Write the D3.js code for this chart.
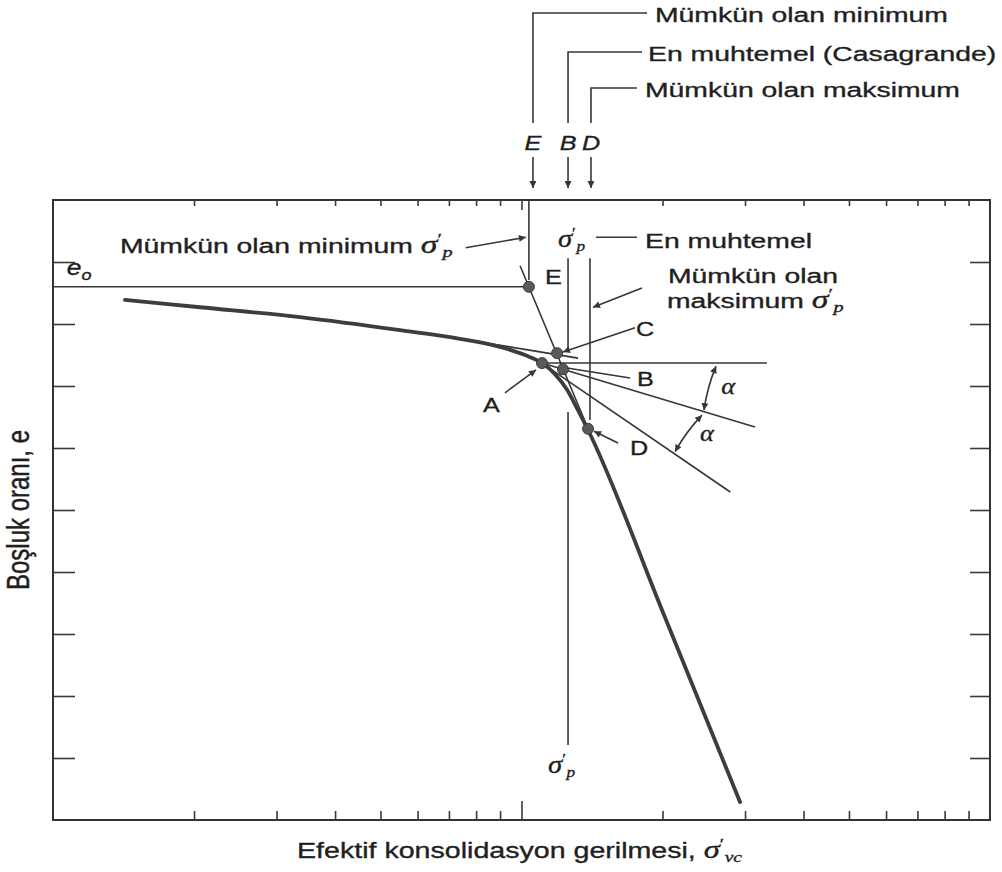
<!DOCTYPE html>
<html><head><meta charset="utf-8">
<script src="https://cdn.jsdelivr.net/npm/d3@7"></script>
<style>body{margin:0;background:#fff}svg{display:block}</style>
</head><body>
<svg id="c" width="1002" height="872"></svg>
<script>
// ---------- data (stress: log axis, void ratio: linear axis) ----------
const curveStress = [1.424, 2.060, 3.367, 5.505, 7.392, 8.998, 10.17, 11.06, 11.79, 12.51, 13.20, 13.87, 20.14, 29.27];
const curveVoid   = [0.839, 0.827, 0.811, 0.790, 0.776, 0.763, 0.750, 0.737, 0.719, 0.694, 0.661, 0.629, 0.331, 0.029];

const pointNames  = ["E", "A", "C", "B", "D"];
const pointStress = [10.37, 11.06, 11.91, 12.26, 13.87];
const pointVoid   = [0.860, 0.737, 0.753, 0.727, 0.631];

const e0 = 0.860;
// construction lines
const lineNames  = ["virgin", "horizontal", "bisector", "tangent", "recompression"];
const lineFrom   = [[9.93, 0.894], [11.06, 0.737], [11.06, 0.737], [11.06, 0.737], [8.15, 0.771]];
const lineTo     = [[13.87, 0.631], [33.4, 0.737], [31.5, 0.634], [27.9, 0.529], [13.2, 0.745]];
// vertical construction lines: stress, void top, void bottom
const vertStress = [10.37, 12.57, 12.57, 14.00];
const vertTop    = [1.000, 0.906, 0.658, 0.906];
const vertBottom = [0.871, 0.761, 0.121, 0.645];

const xMinorTicks = [2, 3, 4, 5, 6, 7, 8, 9, 20, 30, 40, 50, 60, 70, 80, 90];
const xMajorTicks = [10];
const yTicks = [0.1, 0.2, 0.3, 0.4, 0.5, 0.6, 0.7, 0.8, 0.9];

// top markers E, B, D
const topMarkNames  = ["E", "B", "D"];
const topMarkStress = [10.58, 12.57, 14.07];
const topMarkTexts  = ["Mümkün olan minimum", "En muhtemel (Casagrande)", "Mümkün olan maksimum"];

// ---------- layout ----------
const svg = d3.select("#c");
const L = 53, T = 200, R = 990, B = 820;
const x = d3.scaleLog().domain([1, 100]).range([L, R]);
const y = d3.scaleLinear().domain([0, 1]).range([B, T]);
const INK = "#1f1f1f", LINE = "#363636";
const SANS = "'Liberation Sans', Arial, Helvetica, sans-serif";
const SERIF = "'Liberation Serif', 'Times New Roman', serif";
const SX = 1.35;

const defs = svg.append("defs");
defs.append("marker").attr("id", "arr").attr("viewBox", "0 0 10 10")
  .attr("refX", 10).attr("refY", 5).attr("markerWidth", 10).attr("markerHeight", 7)
  .attr("markerUnits", "userSpaceOnUse").attr("orient", "auto-start-reverse")
  .append("path").attr("d", "M0,0 L10,5 L0,10 z").attr("fill", LINE);

// frame
svg.append("rect").attr("x", L).attr("y", T).attr("width", R - L).attr("height", B - T)
  .attr("fill", "none").attr("stroke", "#333").attr("stroke-width", 2);

function styleAxis(g) {
  g.select(".domain").remove();
  g.selectAll(".tick line").attr("stroke", "#3a3a3a").attr("stroke-width", 1.6);
  g.selectAll(".tick text").remove();
}
svg.append("g").attr("transform", `translate(0,${B})`)
  .call(d3.axisBottom(x).tickValues(xMinorTicks).tickSize(-9).tickFormat("")).call(styleAxis);
svg.append("g").attr("transform", `translate(0,${B})`)
  .call(d3.axisBottom(x).tickValues(xMajorTicks).tickSize(-19).tickFormat("")).call(styleAxis);
svg.append("g").attr("transform", `translate(0,${T})`)
  .call(d3.axisTop(x).tickValues(xMinorTicks).tickSize(-6).tickFormat("")).call(styleAxis);
svg.append("g").attr("transform", `translate(0,${T})`)
  .call(d3.axisTop(x).tickValues(xMajorTicks).tickSize(-10).tickFormat("")).call(styleAxis);
svg.append("g").attr("transform", `translate(${L},0)`)
  .call(d3.axisLeft(y).tickValues(yTicks).tickSize(-22).tickFormat("")).call(styleAxis);
svg.append("g").attr("transform", `translate(${R},0)`)
  .call(d3.axisRight(y).tickValues(yTicks).tickSize(-20).tickFormat("")).call(styleAxis);

// e0 line
svg.append("line").attr("x1", x(1)).attr("x2", x(pointStress[0]))
  .attr("y1", y(e0)).attr("y2", y(e0)).attr("stroke", LINE).attr("stroke-width", 1.6);

// construction lines
lineFrom.forEach((p, i) => {
  svg.append("line").attr("x1", x(p[0])).attr("y1", y(p[1]))
    .attr("x2", x(lineTo[i][0])).attr("y2", y(lineTo[i][1]))
    .attr("stroke", LINE).attr("stroke-width", 1.6);
});
vertStress.forEach((s, i) => {
  svg.append("line").attr("x1", x(s)).attr("x2", x(s))
    .attr("y1", y(vertTop[i])).attr("y2", y(vertBottom[i]))
    .attr("stroke", LINE).attr("stroke-width", 1.6);
});

// compression curve
const curveData = curveStress.map((s, i) => [s, curveVoid[i]]);
svg.append("path").datum(curveData)
  .attr("d", d3.line().x(d => x(d[0])).y(d => y(d[1])).curve(d3.curveMonotoneX))
  .attr("fill", "none").attr("stroke", "#3d3d3d").attr("stroke-width", 3.8)
  .attr("stroke-linejoin", "round").attr("stroke-linecap", "round");

// points
pointStress.forEach((s, i) => {
  svg.append("circle").attr("cx", x(s)).attr("cy", y(pointVoid[i])).attr("r", 5.5)
    .attr("fill", "#5a5a5a").attr("stroke", "#3a3a3a").attr("stroke-width", 1);
});

// ---------- helpers ----------
function arrow(x1, y1, x2, y2, both) {
  const l = svg.append("line").attr("x1", x1).attr("y1", y1).attr("x2", x2).attr("y2", y2)
    .attr("stroke", LINE).attr("stroke-width", 1.6).attr("marker-end", "url(#arr)");
  if (both) l.attr("marker-start", "url(#arr)");
  return l;
}
function arcArrow(x1, y1, x2, y2, bend) {
  const mx = (x1 + x2) / 2, my = (y1 + y2) / 2;
  const dx = x2 - x1, dy = y2 - y1, len = Math.hypot(dx, dy);
  const cx = mx + (-dy / len) * bend, cy = my + (dx / len) * bend;
  svg.append("path").attr("d", `M${x1},${y1} Q${cx},${cy} ${x2},${y2}`)
    .attr("fill", "none").attr("stroke", LINE).attr("stroke-width", 1.6)
    .attr("marker-start", "url(#arr)").attr("marker-end", "url(#arr)");
}
function label(px, py, opts) {
  const o = Object.assign({size: 21, anchor: "start", italic: false, sx: SX}, opts || {});
  const g = svg.append("g").attr("transform", `translate(${px},${py}) scale(${o.sx},1)`);
  const t = g.append("text").attr("font-size", o.size).attr("text-anchor", o.anchor)
    .attr("font-family", SANS).attr("fill", INK)
    .attr("stroke", INK).attr("stroke-width", 0.35);
  if (o.italic) t.attr("font-style", "italic");
  return t;
}
function sigma(t, sub) {
  t.append("tspan").attr("font-family", SERIF).attr("font-style", "italic").attr("font-size", 25).text("σ");
  t.append("tspan").attr("font-family", SERIF).attr("font-size", 15).attr("dy", -9).text("′");
  t.append("tspan").attr("font-family", SERIF).attr("font-style", "italic").attr("font-size", 15)
    .attr("dx", 0.5).attr("dy", 13).text(sub);
}

// ---------- top markers ----------
const leaderY = [13, 52, 88], leaderEnd = [647, 642, 637], textStart = [655, 648, 645], textBase = [22, 61, 97];
topMarkStress.forEach((s, i) => {
  const px = x(s);
  svg.append("path").attr("d", `M${px},123 V${leaderY[i]} H${leaderEnd[i]}`)
    .attr("fill", "none").attr("stroke", LINE).attr("stroke-width", 1.6);
  label(px, 150, {italic: true, anchor: "middle", sx: 1.2}).text(topMarkNames[i]);
  arrow(px, 157, px, 188);
  label(textStart[i], textBase[i]).text(topMarkTexts[i]);
});

// ---------- in-plot annotations ----------
// e_o
const eo = label(x(1.07), y(0.879), {italic: true, size: 22, sx: 1.2});
eo.append("tspan").text("e");
eo.append("tspan").attr("font-size", 15).attr("dy", 5).text("o");

// minimum sigma_p label + arrow
const tMin = label(x(1.390), y(0.915));
tMin.append("tspan").text("Mümkün olan minimum ");
sigma(tMin, "p");
arrow(x(7.60), y(0.923), x(10.22), y(0.940));

// most probable sigma_p
const tMid = label(x(11.96), y(0.924), {sx: 1.15});
sigma(tMid, "p");
svg.append("line").attr("x1", x(14.42)).attr("x2", x(17.64)).attr("y1", y(0.940)).attr("y2", y(0.940))
  .attr("stroke", LINE).attr("stroke-width", 1.6);
label(x(18.35), y(0.923)).text("En muhtemel");

// maximum sigma_p
label(x(20.54), y(0.866)).text("Mümkün olan");
const tMax = label(x(20.44), y(0.826));
tMax.append("tspan").text("maksimum ");
sigma(tMax, "p");
arrow(x(18.08), y(0.858), x(14.21), y(0.827));

// point letters
const letterStress = [11.22, 8.276, 17.55, 17.64, 17.05];
const letterVoid   = [0.865, 0.658, 0.781, 0.700, 0.589];
pointNames.forEach((n, i) => label(x(letterStress[i]), y(letterVoid[i]), {sx: 1.2}).text(n));

arrow(x(9.221), y(0.689), x(10.74), y(0.726));   // A
arrow(x(17.47), y(0.794), x(12.26), y(0.755));   // C
arrow(x(16.07), y(0.608), x(14.28), y(0.627));   // D
svg.append("line").attr("x1", x(12.51)).attr("y1", y(0.729)).attr("x2", x(17.05)).attr("y2", y(0.713))
  .attr("stroke", LINE).attr("stroke-width", 1.6);  // B leader

// alpha arcs
arcArrow(x(26.02), y(0.732), x(24.52), y(0.661), 3);
arcArrow(x(24.28), y(0.653), x(21.27), y(0.594), 3);
label(x(27.60), y(0.687), {anchor: "middle", sx: 1.1}).attr("font-family", SERIF)
  .attr("font-style", "italic").attr("font-size", 24).text("α");
label(x(24.88), y(0.611), {anchor: "middle", sx: 1.1}).attr("font-family", SERIF)
  .attr("font-style", "italic").attr("font-size", 24).text("α");

// bottom sigma_p
const tBot = label(x(11.39), y(0.076), {sx: 1.15});
sigma(tBot, "p");

// ---------- axis titles ----------
const xt = label((L + R) / 2 - 2, 858, {anchor: "middle", size: 22, sx: 1.3});
xt.append("tspan").text("Efektif konsolidasyon gerilmesi, ");
sigma(xt, "vc");

svg.append("g").attr("transform", `translate(29,510) scale(1.3,1) rotate(-90)`)
  .append("text").attr("text-anchor", "middle").attr("font-family", SANS)
  .attr("font-size", 24).attr("fill", INK).attr("stroke", INK).attr("stroke-width", 0.35)
  .text("Boşluk oranı, e");
</script>
</body></html>
